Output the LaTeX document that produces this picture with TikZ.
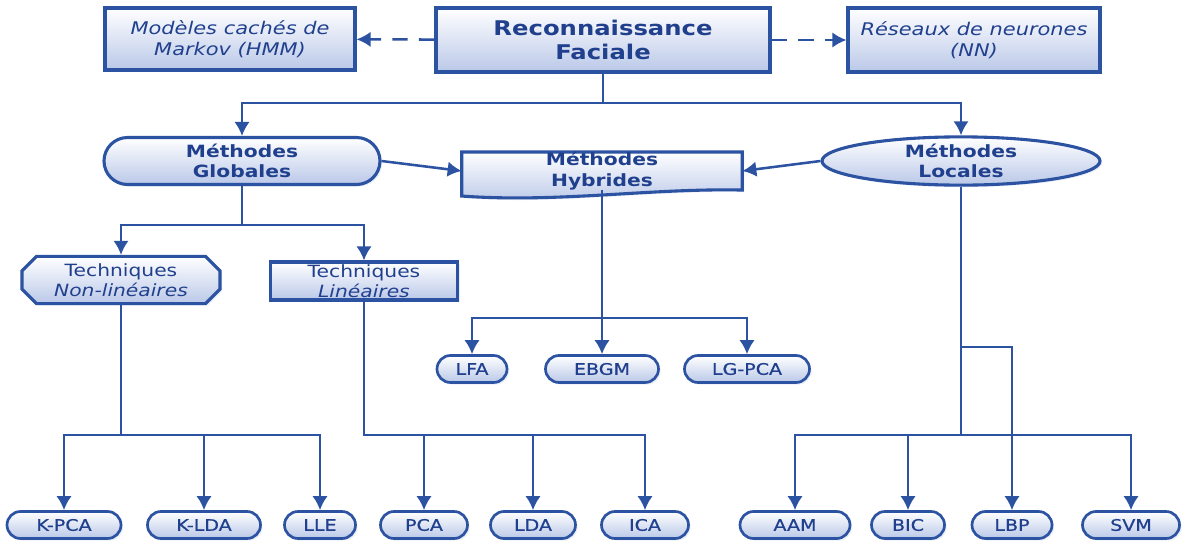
\documentclass[tikz,border=0pt]{standalone}
\usepackage{fontspec}
\usepackage{tikz}
\usetikzlibrary{arrows.meta,shapes.misc,shapes.geometric,shadows,backgrounds}
\newfontfamily\diagfont[FakeStretch=1.2]{DejaVu Sans}
\newfontfamily\leaffont[FakeStretch=1.2, FakeBold=0.6]{DejaVu Sans}
\definecolor{lineblue}{RGB}{44,82,162}
\definecolor{textblue}{RGB}{32,64,142}
\definecolor{fillblue}{RGB}{186,200,232}

\begin{document}
\begin{tikzpicture}[x=0.025cm, y=-0.025cm, font=\diagfont]
    % pixel unit
    \newcommand{\px}{0.025cm}
    \useasboundingbox (0,0) rectangle (1184,540);
    % Styles
    \tikzstyle{shade}=[top color=white, bottom color=fillblue,
      drop shadow={shadow xshift=1.5pt, shadow yshift=-1.5pt, opacity=0.3, fill=fillblue}]
    \tikzstyle{label}=[text=textblue, align=center, inner sep=0]
    \tikzstyle{box}=[shade, label, draw=lineblue, line width=2.2pt]
    \tikzstyle{headbox}=[box, rectangle, font=\diagfont\bfseries\fontsize{14.4}{17}\selectfont]
    \tikzstyle{sidebox}=[box, rectangle, font=\diagfont\itshape\fontsize{12.4}{15}\selectfont]
    \tikzstyle{methodfont}=[font=\diagfont\bfseries\fontsize{12}{14.5}\selectfont]
    \tikzstyle{method}=[box, methodfont]
    \tikzstyle{technique}=[box, font=\diagfont\fontsize{12}{14}\selectfont]
    \tikzstyle{leaf}=[box, rounded rectangle, line width=1.9pt, minimum height=27*\px,
      font=\leaffont\fontsize{11.3}{13}\selectfont]
    \tikzstyle{link}=[draw=lineblue, line width=1.8pt, -{Latex[length=10pt,width=11pt]}]

    % Top row
    \node[headbox, minimum width=334*\px, minimum height=64*\px] (RF) at (603,40)
      {Reconnaissance\\Faciale};
    \node[sidebox, minimum width=250*\px, minimum height=62*\px] (HMM) at (230,39)
      {Modèles cachés de\\Markov (HMM)};
    \node[sidebox, minimum width=252*\px, minimum height=64*\px] (NN) at (974,40)
      {Réseaux de neurones\\(NN)};
    \draw[link, dash pattern=on 11pt off 8pt] (RF) -- (HMM);
    \draw[link, dash pattern=on 11pt off 8pt] (RF) -- (NN);

    % Methods
    \node[method, rounded rectangle, minimum width=276*\px, minimum height=47*\px] (Glob) at (242,161)
      {Méthodes\\Globales};
    \node[method, ellipse, minimum width=278*\px, minimum height=47*\px] (Loc) at (961,161)
      {Méthodes\\Locales};
    \node[label, methodfont, minimum width=280*\px, minimum height=34*\px] (Hyb) at (602,171)
      {Méthodes\\Hybrides};
    \begin{pgfonlayer}{background}
      \draw[shade, draw=lineblue, line width=2.2pt] (Hyb.north west) -- (Hyb.north east) -- (Hyb.south east)
        .. controls +(-92,-2) and +(97,7) .. ([shift={(0,6)}]Hyb.south west) -- cycle;
    \end{pgfonlayer}

    % Bus levels
    \coordinate (TopBus) at (0,103);
    \coordinate (MidBus) at (0,225);
    \coordinate (HybBus) at (0,318);
    \coordinate (LbpBus) at (0,347);
    \coordinate (LowBus) at (0,435);

    \draw[link] (RF.south) -- (RF.south |- TopBus) -| (Glob.north);
    \draw[link] (RF.south) -- (RF.south |- TopBus) -| (Loc.north);
    \draw[link] (Glob.east) -- (Hyb.west);
    \draw[link] (Loc.west) -- (Hyb.east);

    % Techniques
    \node[technique, chamfered rectangle, chamfered rectangle xsep=0.18cm, chamfered rectangle ysep=0.18cm,
      minimum width=198*\px, minimum height=36*\px] (NonLin) at (121,280)
      {Techniques\\\textit{Non-linéaires}};
    \node[technique, rectangle, minimum width=187*\px, minimum height=38*\px] (Lin) at (364,281)
      {Techniques\\\textit{Linéaires}};
    \draw[link] (Glob.south) -- (Glob.south |- MidBus) -| (NonLin.north);
    \draw[link] (Glob.south) -- (Glob.south |- MidBus) -| (Lin.north);

    % Hybrid leaves
    \foreach \name/\x/\w in {LFA/472/70, EBGM/602/113, LG-PCA/747/125}
      {
        \node[leaf, minimum width=\w*\px] (Leaf-\name) at (\x,369) {\name};
        \draw[link] (Hyb.south) -- (Hyb.south |- HybBus) -| (Leaf-\name.north);
      }

    % Bottom leaves
    \foreach \name/\x/\w in {K-PCA/64/114, K-LDA/204/113, LLE/320/71, PCA/424/87, LDA/533/85,
      ICA/645/87, AAM/795/110, BIC/908/73, LBP/1012/80, SVM/1131/97}
      {
        \node[leaf, minimum width=\w*\px] (Leaf-\name) at (\x,525) {\name};
      }
    \foreach \name in {K-PCA,K-LDA,LLE}
      {
        \draw[link] (NonLin.south) -- (NonLin.south |- LowBus) -| (Leaf-\name.north);
      }
    \foreach \name in {PCA,LDA,ICA}
      {
        \draw[link] (Lin.south) -- (Lin.south |- LowBus) -| (Leaf-\name.north);
      }
    \foreach \name in {AAM,BIC,SVM}
      {
        \draw[link] (Loc.south) -- (Loc.south |- LowBus) -| (Leaf-\name.north);
      }
    \draw[link] (Loc.south) -- (Loc.south |- LbpBus) -| (Leaf-LBP.north);
\end{tikzpicture}
\end{document}
